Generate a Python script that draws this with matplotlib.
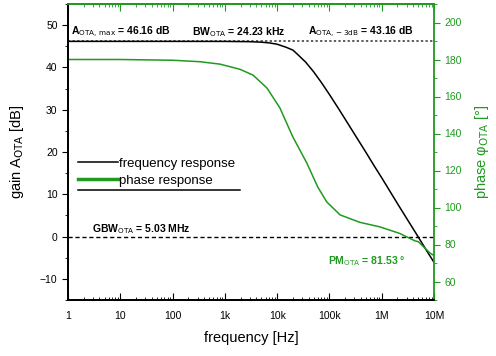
# OTA gain / phase Bode plot

import numpy as np
import matplotlib
matplotlib.use("Agg")
import matplotlib.pyplot as plt
from matplotlib.ticker import FixedLocator, NullFormatter, MultipleLocator
from matplotlib.lines import Line2D

plt.rcParams['font.family'] = ['Liberation Sans', 'DejaVu Sans']

# gain curve
f_gain = [1, 10, 100, 1e3, 3e3, 5e3, 7e3, 1e4, 1.5e4, 2e4, 2.423e4, 3.5e4, 5e4, 7e4,
          1e5, 1.5e5, 2e5, 3e5, 5e5, 7e5, 1e6, 2e6, 3e6, 5e6, 7e6, 1e7]
gain_db = [46.16, 46.16, 46.16, 46.15, 46.09, 45.97, 45.81, 45.49, 44.75, 44.1, 43.16,
           41.27, 38.95, 36.45, 33.6, 30.22, 27.76, 24.28, 19.9, 16.94, 13.9, 7.8, 4.3,
           -0.1, -3.05, -6.1]

# phase curve
f_phase = [1, 10, 100, 334, 806, 1945, 3445, 6380, 1.13e4, 2e4, 3.7e4, 6e4, 8.9e4,
           1.6e5, 3.8e5, 9.3e5, 2.2e6, 4.3e6, 5.03e6, 8.3e6, 1e7]
phase_deg = [180, 180, 179.6, 178.8, 177.5, 174.7, 171.6, 164.6, 153.8, 138.1, 124,
             111, 103, 96, 92, 89.5, 86, 82, 81.5, 75.5, 74]

a_max = 46.16
tick_pos = [1, 10, 100, 1e3, 1e4, 1e5, 1e6, 1e7]
tick_lbl = ['1', '10', '100', '1k', '10k', '100k', '1M', '10M']

green = '#1f9a1f'

fig, ax = plt.subplots(figsize=(4.96, 3.56), dpi=100)
fig.subplots_adjust(left=68/496, right=434/496, top=1-4/356, bottom=1-300/356)

ax.set_xscale('log')
ax.set_xlim(1, 1e7)
ax.set_ylim(-15, 55)

ax.axhline(a_max, color='#333333', lw=1.1, ls=(0, (1.5, 1.5)))
ax.axhline(0, color='black', lw=1.0, ls=(0, (3, 2)))
ax.plot(f_gain, gain_db, color='black', lw=1.1)

ax2 = ax.twinx()
ax2.set_ylim(50, 210)
ax2.plot(f_phase, phase_deg, color=green, lw=1.1)

# axes styling
ax.xaxis.set_major_locator(FixedLocator(tick_pos))
ax.set_xticklabels(tick_lbl)
ax.xaxis.set_minor_formatter(NullFormatter())
ax.tick_params(axis='x', which='major', direction='in', length=5, labelsize=7.5, pad=8)
ax.tick_params(axis='x', which='minor', direction='in', length=2.5)
ax.yaxis.set_major_locator(MultipleLocator(10))
ax.yaxis.set_minor_locator(MultipleLocator(5))
ax.tick_params(axis='y', which='major', direction='out', length=4, labelsize=7.5)
ax.tick_params(axis='y', which='minor', direction='out', length=2.5)

ax2.set_yticks([60, 80, 100, 120, 140, 160, 180, 200])
ax2.yaxis.set_minor_locator(MultipleLocator(10))
ax2.tick_params(axis='y', which='major', direction='out', length=4, labelsize=7.5,
                colors=green)
ax2.tick_params(axis='y', which='minor', direction='out', length=2.5, colors=green)

for sp in ['top', 'right']:
    ax.spines[sp].set_visible(False)
ax2.spines['right'].set_color(green)
ax2.spines['top'].set_color(green)
for sp in ax2.spines.values():
    sp.set_linewidth(1.3)
for sp in ax.spines.values():
    sp.set_linewidth(1.3)

top = ax.secondary_xaxis('top')
top.xaxis.set_major_locator(FixedLocator(tick_pos))
top.xaxis.set_minor_formatter(NullFormatter())
top.tick_params(which='major', direction='in', length=5, colors=green, labeltop=False)
top.tick_params(which='minor', direction='in', length=2.5, colors=green)
top.spines['top'].set_color(green)
top.spines['top'].set_linewidth(1.3)

ax.set_xlabel('frequency [Hz]', fontsize=10.5, labelpad=7)
ax.set_ylabel('gain A$_{\\rm OTA}$ [dB]', fontsize=10.5, labelpad=10)
ax2.set_ylabel('phase \u03c6$_{\\rm OTA}$ [\u00b0]', fontsize=10.5, color=green,
               labelpad=8)

# annotations
ann = dict(transform=ax.transAxes, fontsize=7.5, fontweight='bold')
ax.text(0.008, 0.895, 'A$_{\\rm OTA,\\,max}$ = 46.16 dB', **ann)
ax.text(0.34, 0.895, 'BW$_{\\rm OTA}$ = 24.23 kHz', **ann)
ax.text(0.655, 0.895, 'A$_{\\rm OTA,-3dB}$ = 43.16 dB', **ann)
ax.text(0.065, 0.228, 'GBW$_{\\rm OTA}$ = 5.03 MHz', **ann)
ax.text(0.71, 0.12, 'PM$_{\\rm OTA}$ = 81.53 \u00b0', color=green, **ann)

# legend
handles = [Line2D([], [], color='black', lw=1.1), Line2D([], [], color=green, lw=2.5)]
ax.legend(handles, ['frequency response', 'phase response'], loc='center left',
          bbox_to_anchor=(-0.005, 0.432), frameon=False, fontsize=9.5, handlelength=3.0,
          handletextpad=0.1, labelspacing=0.35)
ax.plot([0.027, 0.47], [0.372, 0.372], transform=ax.transAxes, color='black', lw=1.1)

fig.savefig('out.png', dpi=100)
